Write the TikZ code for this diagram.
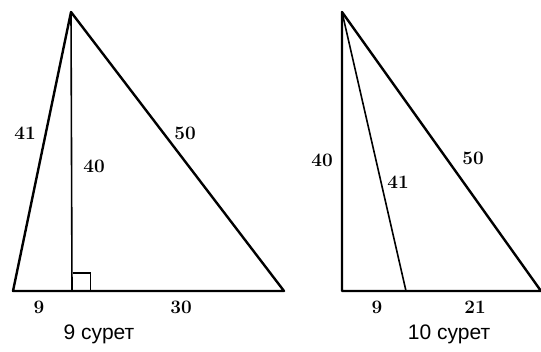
\documentclass[tikz,border=0pt]{standalone}
\usepackage{fontspec}
\newfontfamily\capfont{Liberation Sans}
\begin{document}
\begin{tikzpicture}[x=1pt,y=-1pt,
  edge/.style={line width=2.4pt,line join=round,line cap=round},
  inner/.style={line width=1.6pt,line cap=round},
  num/.style={font=\fontsize{19}{19}\selectfont\bfseries\addfontfeature{FakeBold=2.5},inner sep=0pt},
  captext/.style={font=\capfont\fontsize{21}{21}\selectfont,inner sep=0pt}]
\useasboundingbox (0,0) rectangle (541,351);
% figure 9
\coordinate (A) at (71,12);
\coordinate (B) at (13,291);
\coordinate (H) at (72,291);
\coordinate (C) at (284,291);
\draw[edge] (A) -- (B) -- (C) -- cycle;
\draw[inner] (A) -- (H);
\draw[line width=1.3pt] ([xshift=0.6pt]H) ++(0,-18) -- ++(18,0) -- ++(0,18);
\node[num] (l41) at (25,133) {41};
\node[num] (l40) at (94,166) {40};
\node[num] (l50) at (185,133) {50};
\node[num] (l9) at (39,307) {9};
\node[num] (l30) at (181,307) {30};
\node[captext] (c9) at (99,334) {9 сурет};
% figure 10
\coordinate (P) at (342,12);
\coordinate (Q) at (342,291);
\coordinate (F) at (406,291);
\coordinate (R) at (541,291);
\draw[edge] (P) -- (Q) -- (R) -- cycle;
\draw[inner] (P) -- (F);
\node[num] (m40) at (322,160) {40};
\node[num] (m41) at (398,182) {41};
\node[num] (m50) at (473,158) {50};
\node[num] (m9) at (377,307) {9};
\node[num] (m21) at (475,307) {21};
\node[captext] (c10) at (449,334) {10 сурет};
\end{tikzpicture}
\end{document}
